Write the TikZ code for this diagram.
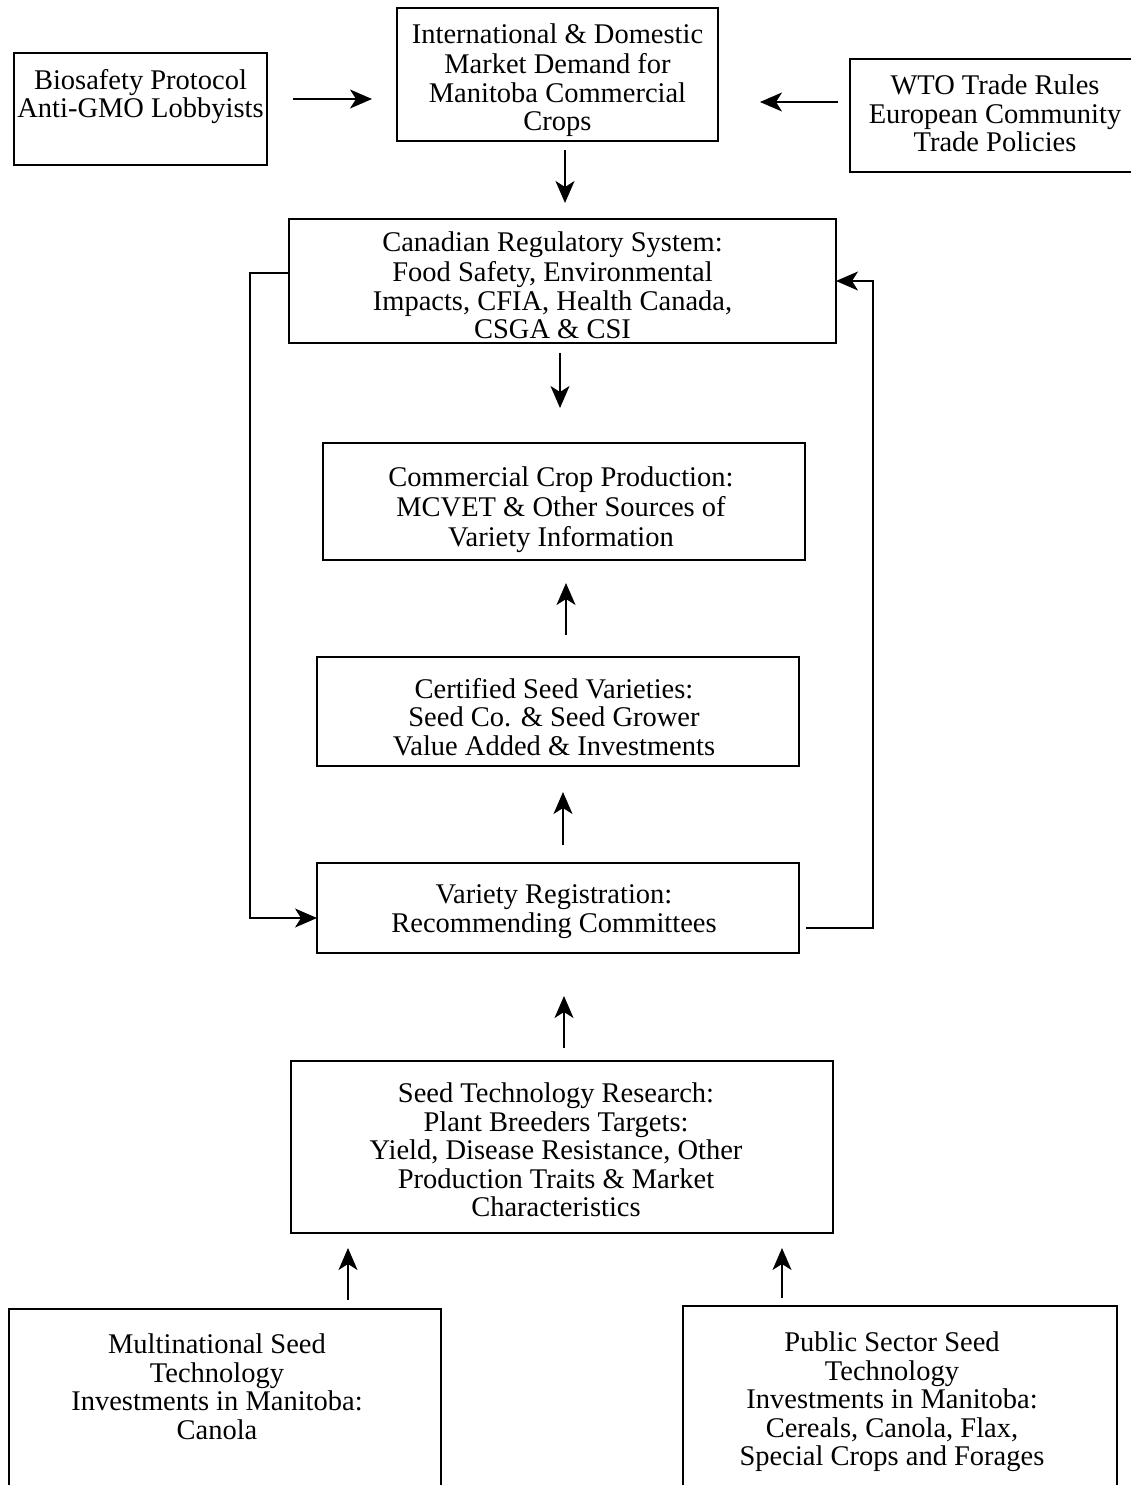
\documentclass[tikz,border=0pt]{standalone}
\usepackage{fontspec}
\setmainfont{Liberation Serif}
\usetikzlibrary{arrows.meta,calc}
% #1 text width, #2 box height, #3 top padding, #4 extra right space, #5 lines
\newcommand{\bt}[5]{\parbox[c][#2pt][t]{#1pt}{\centering\vspace*{#3pt}#5\par}\hspace*{#4pt}}
\begin{document}
\begin{tikzpicture}[x=1pt,y=-1pt,
  box/.style={draw, line width=1.4pt, inner sep=0pt, outer sep=0pt,
    font=\fontsize{28.5}{28.5}\selectfont},
  arr/.style={line width=1.3pt, -{Stealth[length=22pt,width=19pt,inset=6pt]}}]
\useasboundingbox (0,0) rectangle (1131,1485);
\clip (0,0) rectangle (1131,1485);

\node[box] (bio) at (140.5,109) {\bt{253}{112}{16}{0}{\strut Biosafety Protocol\\\strut Anti-GMO Lobbyists}};
\node[box] (intl) at (557.5,74.5) {\bt{321}{133}{16}{0}{\strut International \& Domestic\\\strut Market Demand for\\\strut Manitoba Commercial\\\strut Crops}};
\node[box] (wto) at (995,115.5) {\bt{290}{113}{16}{0}{\strut WTO Trade Rules\\\strut European Community\\\strut Trade Policies}};
\node[box] (can) at (562.5,281) {\bt{527}{124}{13}{20}{\strut Canadian Regulatory System:\\\strut Food Safety, Environmental\\\strut Impacts, CFIA, Health Canada,\\\strut CSGA \& CSI}};
\node[box] (com) at (564,501.5) {\bt{476}{117}{24}{6}{\strut Commercial Crop Production:\\\strut MCVET \& Other Sources of\\\strut Variety Information}};
\node[box] (cert) at (558,711.5) {\bt{474}{109}{21}{8}{\strut Certified Seed Varieties:\\\strut Seed Co. \& Seed Grower\\\strut Value Added \& Investments}};
\node[box] (var) at (558,908) {\bt{474}{90}{21}{8}{\strut Variety Registration:\\\strut Recommending Committees}};
\node[box] (seed) at (562,1147) {\bt{530}{172}{22}{12}{\strut Seed Technology Research:\\\strut Plant Breeders Targets:\\\strut Yield, Disease Resistance, Other\\\strut Production Traits \& Market\\\strut Characteristics}};
\node[box] (multi) at (225,1414.5) {\bt{416}{211}{25}{16}{\strut Multinational Seed\\\strut Technology\\\strut Investments in Manitoba:\\\strut Canola}};
\node[box] (pub) at (900,1413) {\bt{418}{214}{26}{16}{\strut Public Sector Seed\\\strut Technology\\\strut Investments in Manitoba:\\\strut Cereals, Canola, Flax,\\\strut Special Crops and Forages}};

\draw[arr] ($(bio.east)+(26,-10)$) -- ($(intl.west)+(-25,24.5)$);
\draw[arr] ($(wto.west)+(-12,-13.5)$) -- ($(intl.east)+(42,27.5)$);
\draw[arr] ($(intl.south)+(7.5,9)$) -- ($(can.north)+(2.5,-16)$);
\draw[arr] ($(can.south)+(-2.5,10)$) -- ($(com.north)+(-4,-35)$);
\draw[arr] ($(cert.north)+(8,-22)$) -- ($(com.south)+(2,23)$);
\draw[arr] ($(var.north)+(5,-18)$) -- ($(cert.south)+(5,26)$);
\draw[arr] ($(seed.north)+(2,-13)$) -- ($(var.south)+(6,43)$);
\draw[arr] ($(multi.north)+(123,-9)$) -- ($(seed.south)+(-214,15)$);
\draw[arr] ($(pub.north)+(-118,-8)$) -- ($(seed.south)+(220,15)$);
\draw[arr] ($(can.west)+(0,-8)$) -- ++(-39,0) |- ($(var.west)+(0,10)$);
\draw[arr] ($(var.east)+(7,20)$) -- ++(67,0) |- (can.east);
\end{tikzpicture}
\end{document}
